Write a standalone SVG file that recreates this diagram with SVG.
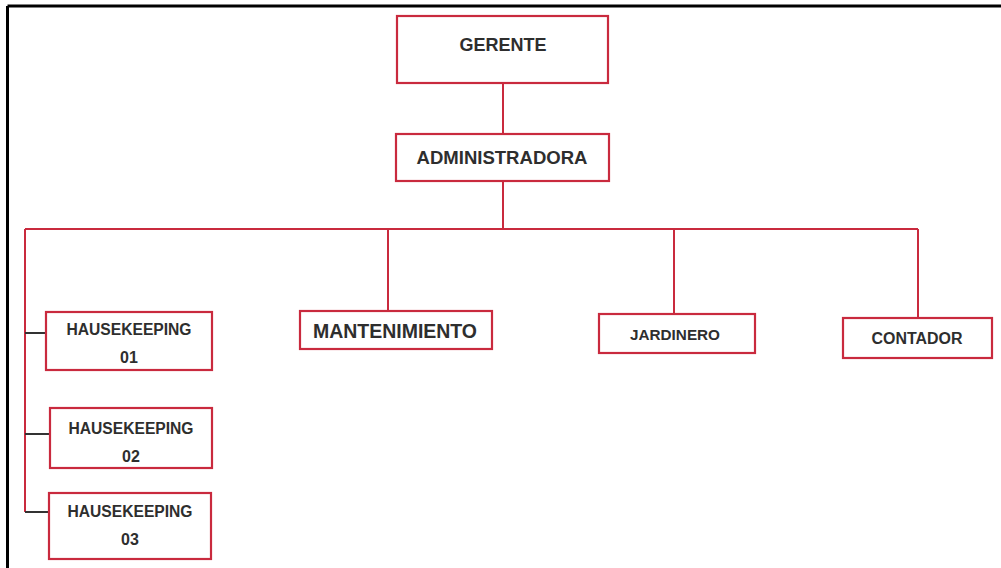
<svg xmlns="http://www.w3.org/2000/svg" width="1001" height="568" viewBox="0 0 1001 568">
<style>
.box{fill:#ffffff;stroke:#c92a3e;stroke-width:2.2}
.lbl{font-family:"Liberation Sans",Arial,sans-serif;font-weight:bold;fill:#2e2e2e;text-anchor:middle;dominant-baseline:central}
.red{stroke:#c92a3e;stroke-width:2;fill:none}
.blk{stroke:#333333;stroke-width:2;fill:none}
</style>
<rect x="0" y="0" width="1001" height="568" fill="#ffffff"/>
<g id="frame">
<line x1="7.5" y1="6" x2="1001" y2="6" stroke="#000" stroke-width="3"/>
<line x1="7.5" y1="6" x2="7.5" y2="568" stroke="#000" stroke-width="3"/>
</g>
<g id="connectors">
<line class="red" x1="503" y1="83" x2="503" y2="134"/>
<line class="red" x1="503" y1="181" x2="503" y2="229"/>
<line class="red" x1="25" y1="229" x2="918" y2="229"/>
<line class="red" x1="388" y1="229" x2="388" y2="311"/>
<line class="red" x1="674" y1="229" x2="674" y2="314"/>
<line class="red" x1="918" y1="229" x2="918" y2="318"/>
<line class="red" x1="25" y1="229" x2="25" y2="512"/>
<line class="blk" x1="25" y1="333" x2="46" y2="333"/>
<line class="blk" x1="25" y1="434" x2="50" y2="434"/>
<line class="blk" x1="25" y1="512" x2="49" y2="512"/>
</g>
<g id="gerente">
<rect class="box" x="397" y="16" width="211" height="67"/>
<text class="lbl" x="503" y="45" font-size="18" textLength="87" lengthAdjust="spacingAndGlyphs">GERENTE</text>
</g>
<g id="administradora">
<rect class="box" x="396" y="134" width="213" height="47"/>
<text class="lbl" x="502" y="157" font-size="19" textLength="171" lengthAdjust="spacingAndGlyphs">ADMINISTRADORA</text>
</g>
<g id="mantenimiento">
<rect class="box" x="300" y="311" width="192" height="38"/>
<text class="lbl" x="395" y="331" font-size="20" textLength="164" lengthAdjust="spacingAndGlyphs">MANTENIMIENTO</text>
</g>
<g id="jardinero">
<rect class="box" x="599" y="314" width="156" height="39"/>
<text class="lbl" x="675" y="334" font-size="15" textLength="90" lengthAdjust="spacingAndGlyphs">JARDINERO</text>
</g>
<g id="contador">
<rect class="box" x="843" y="318" width="149" height="40"/>
<text class="lbl" x="917" y="338" font-size="16" textLength="91" lengthAdjust="spacingAndGlyphs">CONTADOR</text>
</g>
<g id="hk01">
<rect class="box" x="46" y="312" width="166" height="58"/>
<text class="lbl" x="129" y="329" font-size="16" textLength="125" lengthAdjust="spacingAndGlyphs">HAUSEKEEPING</text>
<text class="lbl" x="129" y="357" font-size="16">01</text>
</g>
<g id="hk02">
<rect class="box" x="50" y="408" width="162" height="60"/>
<text class="lbl" x="131" y="428" font-size="16" textLength="125" lengthAdjust="spacingAndGlyphs">HAUSEKEEPING</text>
<text class="lbl" x="131" y="456" font-size="16">02</text>
</g>
<g id="hk03">
<rect class="box" x="49" y="493" width="162" height="66"/>
<text class="lbl" x="130" y="511" font-size="16" textLength="125" lengthAdjust="spacingAndGlyphs">HAUSEKEEPING</text>
<text class="lbl" x="130" y="539" font-size="16">03</text>
</g>
</svg>
